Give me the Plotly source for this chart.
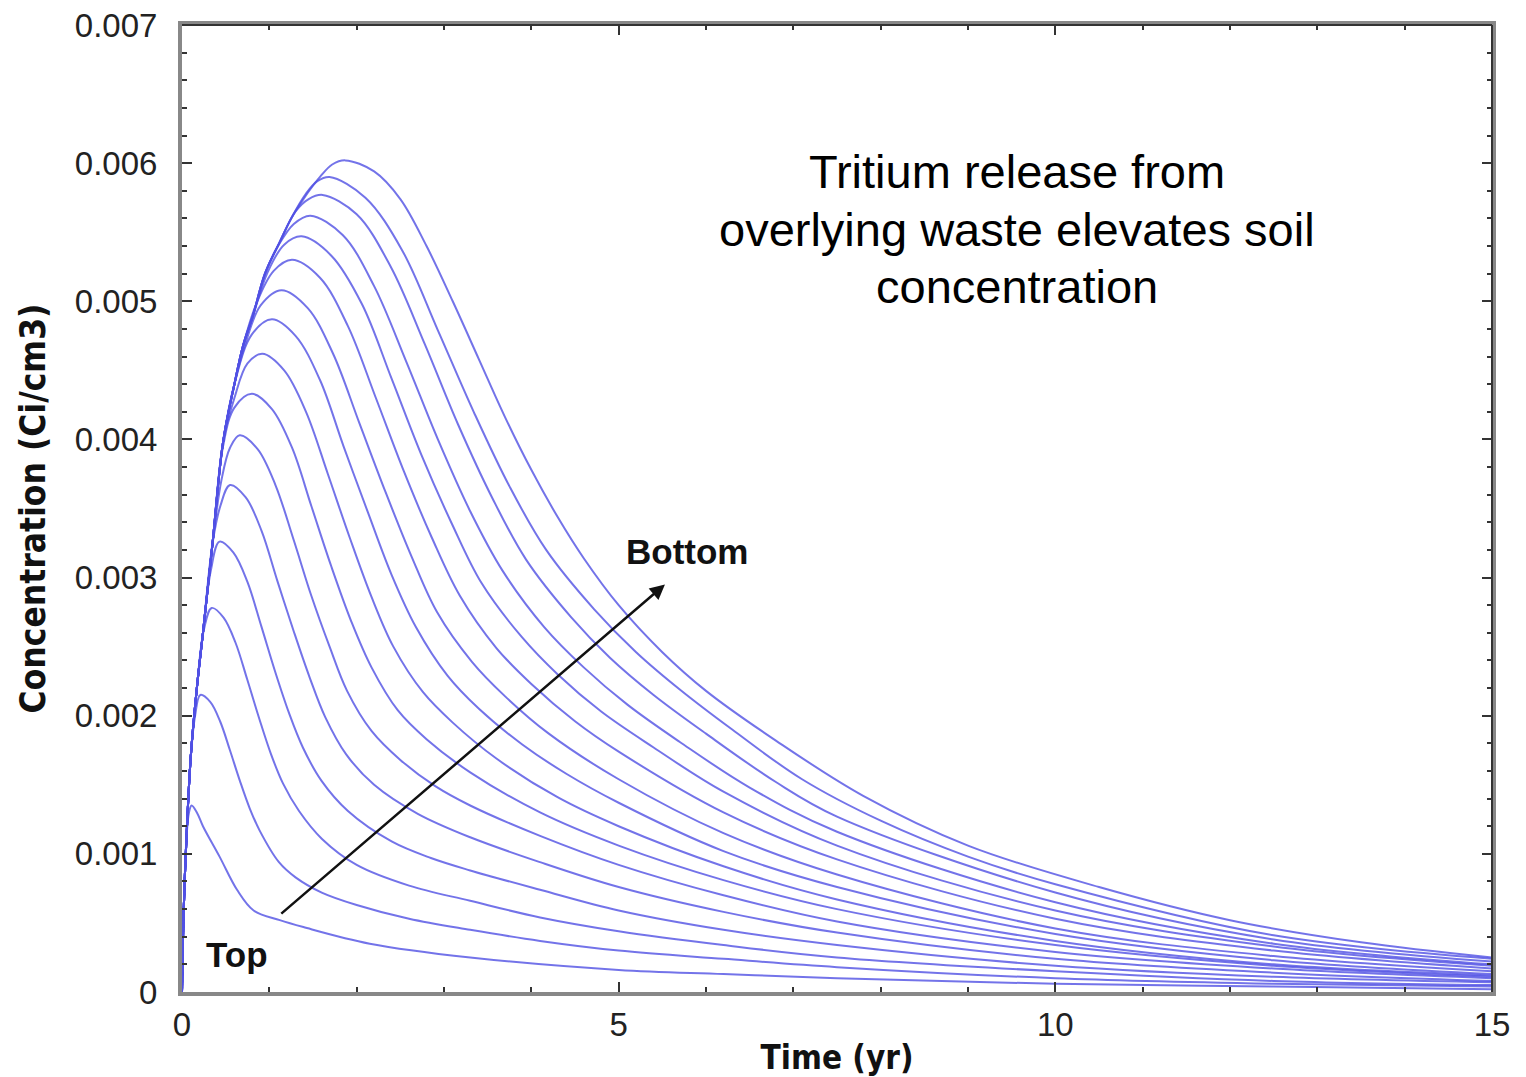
import plotly.graph_objects as go

# ---- data: concentration (Ci/cm3) vs time (yr), one curve per depth, top -> bottom ----
t_00 = [0, 0.02, 0.05, 0.08, 0.11, 0.17, 0.24, 0.43, 0.63, 0.82, 1.12, 1.39, 2.15, 3.3, 5, 6.2, 7.5, 10, 12.5, 15]
c_00 = [0, 0.0006, 0.0011, 0.0013, 0.00135, 0.0013, 0.0012, 0.00098, 0.00074, 0.00059, 0.00052, 0.00047, 0.00035, 0.00025, 0.00016, 0.00013, 0.0001, 0.00006, 0.00004, 0.00002]

t_01 = [0, 0.02, 0.05, 0.1, 0.15, 0.21, 0.323, 0.436, 0.549, 0.662, 0.775, 0.888, 1.11, 1.3, 1.6, 2.0, 2.6, 3.3, 4.1, 5, 6.2, 7.5, 10, 12.5, 15]
c_01 = [0, 0.0006, 0.0011, 0.0017, 0.002, 0.00215, 0.0021, 0.00196, 0.00175, 0.00153, 0.00133, 0.00117, 0.00094, 0.00083, 0.00072, 0.00063, 0.00053, 0.00045, 0.00037, 0.0003, 0.00024, 0.00018, 0.0001, 0.00006, 0.00004]

t_02 = [0, 0.02, 0.05, 0.1, 0.17, 0.25, 0.34, 0.476, 0.612, 0.748, 0.884, 1.02, 1.156, 1.34, 1.6, 2.0, 2.6, 3.3, 4.1, 5, 6.2, 7.5, 10, 12.5, 15]
c_02 = [0, 0.0006, 0.0011, 0.0017, 0.0022, 0.00262, 0.00278, 0.00271, 0.00253, 0.00226, 0.00198, 0.00172, 0.00151, 0.00131, 0.00111, 0.00092, 0.00077, 0.00066, 0.00054, 0.00044, 0.00034, 0.00025, 0.00015, 0.00008, 0.00005]

t_03 = [0, 0.02, 0.05, 0.1, 0.17, 0.24, 0.33, 0.43, 0.589, 0.748, 0.907, 1.066, 1.225, 1.384, 1.596, 1.9, 2.4, 2.85, 3.3, 4.1, 5, 6.2, 7.5, 10, 12.5, 15]
c_03 = [0, 0.0006, 0.0011, 0.0017, 0.0022, 0.0026, 0.00305, 0.00326, 0.00318, 0.00297, 0.00265, 0.00232, 0.00202, 0.00177, 0.00153, 0.00131, 0.00109, 0.00097, 0.00088, 0.00074, 0.00059, 0.00045, 0.00034, 0.00019, 0.00011, 0.00007]

t_04 = [0, 0.02, 0.05, 0.1, 0.17, 0.24, 0.35, 0.44, 0.55, 0.73, 0.91, 1.09, 1.28, 1.46, 1.64, 1.88, 2.2, 2.7, 3.3, 4.1, 5, 6.2, 7.5, 10, 12.5, 15]
c_04 = [0, 0.0006, 0.0011, 0.0017, 0.0022, 0.0026, 0.00325, 0.00352, 0.00367, 0.00358, 0.00334, 0.00298, 0.00261, 0.00228, 0.00199, 0.00172, 0.0015, 0.00129, 0.00112, 0.00094, 0.00076, 0.00058, 0.00043, 0.00024, 0.00014, 0.00008]

t_05 = [0, 0.02, 0.05, 0.1, 0.17, 0.24, 0.35, 0.45, 0.55, 0.66, 0.866, 1.07, 1.28, 1.48, 1.69, 1.89, 2.17, 2.5, 2.9, 3.3, 4.1, 5, 6.2, 7.5, 10, 12.5, 15]
c_05 = [0, 0.0006, 0.0011, 0.0017, 0.0022, 0.0026, 0.00325, 0.0037, 0.00394, 0.00403, 0.00393, 0.00367, 0.00327, 0.00287, 0.0025, 0.00218, 0.00189, 0.00168, 0.00149, 0.00135, 0.00113, 0.00092, 0.0007, 0.00051, 0.00029, 0.00017, 0.0001]

t_06 = [0, 0.02, 0.05, 0.1, 0.17, 0.24, 0.35, 0.47, 0.6, 0.8, 1.03, 1.26, 1.48, 1.71, 1.94, 2.17, 2.47, 2.8, 3.3, 4.1, 5, 6.2, 7.5, 10, 12.5, 15]
c_06 = [0, 0.0006, 0.0011, 0.0017, 0.0022, 0.0026, 0.00325, 0.00395, 0.00423, 0.00433, 0.00422, 0.00394, 0.00352, 0.00308, 0.00268, 0.00235, 0.00204, 0.00183, 0.00159, 0.0013, 0.00106, 0.00081, 0.0006, 0.00034, 0.00019, 0.00011]

t_07 = [0, 0.02, 0.05, 0.1, 0.17, 0.24, 0.35, 0.47, 0.6, 0.75, 0.92, 1.17, 1.42, 1.67, 1.92, 2.17, 2.42, 2.76, 3.1, 3.6, 4.3, 5, 6.2, 7.5, 10, 12.5, 15]
c_07 = [0, 0.0006, 0.0011, 0.0017, 0.0022, 0.0026, 0.00325, 0.00398, 0.0043, 0.00455, 0.00462, 0.0045, 0.0042, 0.00375, 0.00329, 0.00286, 0.0025, 0.00217, 0.00195, 0.00169, 0.00141, 0.0012, 0.00091, 0.00067, 0.00037, 0.0002, 0.00012]

t_08 = [0, 0.02, 0.05, 0.1, 0.17, 0.24, 0.35, 0.47, 0.6, 0.8, 1.03, 1.30, 1.58, 1.85, 2.13, 2.40, 2.68, 3.04, 3.4, 3.9, 4.4, 5, 6.2, 7.5, 10, 12.5, 15]
c_08 = [0, 0.0006, 0.0011, 0.0017, 0.0022, 0.0026, 0.00325, 0.00398, 0.0044, 0.00476, 0.00487, 0.00475, 0.00443, 0.00395, 0.00347, 0.00302, 0.00264, 0.00229, 0.00205, 0.00179, 0.00158, 0.00137, 0.00102, 0.00076, 0.00042, 0.00023, 0.00013]

t_09 = [0, 0.02, 0.05, 0.1, 0.17, 0.24, 0.35, 0.47, 0.6, 0.72, 0.9, 1.14, 1.44, 1.73, 2.03, 2.33, 2.63, 2.92, 3.32, 3.7, 4.2, 5, 6.2, 7.5, 10, 12.5, 15]
c_09 = [0, 0.0006, 0.0011, 0.0017, 0.0022, 0.0026, 0.00325, 0.00398, 0.0044, 0.00468, 0.00497, 0.00508, 0.00495, 0.00462, 0.00412, 0.00362, 0.00315, 0.00275, 0.00239, 0.00214, 0.00187, 0.00154, 0.00115, 0.00085, 0.00046, 0.00026, 0.00015]

t_10 = [0, 0.02, 0.05, 0.1, 0.17, 0.24, 0.35, 0.47, 0.6, 0.7, 0.85, 1.05, 1.26, 1.58, 1.90, 2.22, 2.54, 2.86, 3.18, 3.6, 4.0, 4.5, 5, 6.2, 7.5, 10, 12.5, 15]
c_10 = [0, 0.0006, 0.0011, 0.0017, 0.0022, 0.0026, 0.00325, 0.00398, 0.0044, 0.00468, 0.00498, 0.00522, 0.0053, 0.00517, 0.00482, 0.0043, 0.00377, 0.00329, 0.00287, 0.00249, 0.00223, 0.00196, 0.00174, 0.0013, 0.00096, 0.00053, 0.0003, 0.00017]

t_11 = [0, 0.02, 0.05, 0.1, 0.17, 0.24, 0.35, 0.47, 0.6, 0.7, 0.81, 0.98, 1.17, 1.37, 1.71, 2.06, 2.40, 2.74, 3.09, 3.43, 3.89, 4.3, 4.8, 5.4, 6.2, 7.5, 10, 12.5, 15]
c_11 = [0, 0.0006, 0.0011, 0.0017, 0.0022, 0.0026, 0.00325, 0.00398, 0.0044, 0.00468, 0.00489, 0.00521, 0.00541, 0.00547, 0.00533, 0.00498, 0.00444, 0.00389, 0.00339, 0.00296, 0.00257, 0.0023, 0.00203, 0.00177, 0.00145, 0.00106, 0.00059, 0.00033, 0.00019]

t_12 = [0, 0.02, 0.05, 0.1, 0.17, 0.24, 0.35, 0.47, 0.6, 0.7, 0.81, 0.95, 1.1, 1.28, 1.47, 1.84, 2.20, 2.57, 2.93, 3.30, 3.67, 4.15, 4.6, 5.1, 5.7, 6.5, 7.5, 10, 12.5, 15]
c_12 = [0, 0.0006, 0.0011, 0.0017, 0.0022, 0.0026, 0.00325, 0.00398, 0.0044, 0.00468, 0.00489, 0.0052, 0.0054, 0.00556, 0.00562, 0.00548, 0.00511, 0.00456, 0.004, 0.00348, 0.00305, 0.00264, 0.00235, 0.00208, 0.00181, 0.00148, 0.00116, 0.00065, 0.00035, 0.0002]

t_13 = [0, 0.02, 0.05, 0.1, 0.17, 0.24, 0.35, 0.47, 0.6, 0.7, 0.81, 0.95, 1.12, 1.3, 1.45, 1.61, 2.0, 2.39, 2.78, 3.16, 3.55, 3.94, 4.46, 4.9, 5.4, 6.0, 6.8, 7.5, 10, 12.5, 15]
c_13 = [0, 0.0006, 0.0011, 0.0017, 0.0022, 0.0026, 0.00325, 0.00398, 0.0044, 0.00468, 0.00489, 0.0052, 0.00543, 0.00565, 0.00574, 0.00577, 0.00563, 0.00525, 0.00469, 0.00411, 0.00358, 0.00313, 0.00271, 0.00242, 0.00215, 0.00187, 0.00152, 0.00127, 0.00072, 0.00038, 0.00022]

t_14 = [0, 0.02, 0.05, 0.1, 0.17, 0.24, 0.35, 0.47, 0.6, 0.7, 0.81, 0.95, 1.12, 1.25, 1.42, 1.55, 1.69, 2.10, 2.52, 2.93, 3.34, 3.75, 4.17, 4.72, 5.2, 5.7, 6.3, 7.1, 8.0, 9.0, 10, 12.5, 15]
c_14 = [0, 0.0006, 0.0011, 0.0017, 0.0022, 0.0026, 0.00325, 0.00398, 0.0044, 0.00468, 0.00489, 0.0052, 0.00543, 0.0056, 0.00578, 0.00587, 0.0059, 0.00575, 0.00537, 0.00479, 0.0042, 0.00366, 0.0032, 0.00277, 0.00246, 0.00219, 0.0019, 0.00154, 0.00124, 0.00098, 0.00078, 0.00041, 0.00024]

t_15 = [0, 0.02, 0.05, 0.1, 0.17, 0.24, 0.35, 0.47, 0.6, 0.7, 0.81, 0.95, 1.12, 1.25, 1.39, 1.58, 1.72, 1.87, 2.2, 2.5, 2.8, 3.1, 3.4, 3.7, 4.0, 4.3, 4.6, 5.0, 5.5, 6.0, 6.8, 7.8, 9.0, 10.5, 12.0, 13.5, 15]
c_15 = [0, 0.0006, 0.0011, 0.0017, 0.0022, 0.0026, 0.00325, 0.00398, 0.0044, 0.00468, 0.00489, 0.0052, 0.00543, 0.0056, 0.00574, 0.0059, 0.00599, 0.00602, 0.00594, 0.00574, 0.0054, 0.005, 0.00458, 0.00416, 0.00378, 0.00344, 0.00314, 0.0028, 0.00246, 0.00218, 0.00182, 0.00142, 0.00106, 0.00076, 0.00052, 0.00036, 0.00025]

y_ticks = [0, 0.001, 0.002, 0.003, 0.004, 0.005, 0.006, 0.007]
y_labels = ["0", "0.001", "0.002", "0.003", "0.004", "0.005", "0.006", "0.007"]
x_ticks = [0, 5, 10, 15]
x_labels = ["0", "5", "10", "15"]

title_lines = ["Tritium release from", "overlying waste elevates soil", "concentration"]

times = [t_00, t_01, t_02, t_03, t_04, t_05, t_06, t_07, t_08, t_09, t_10, t_11, t_12, t_13, t_14, t_15]
concs = [c_00, c_01, c_02, c_03, c_04, c_05, c_06, c_07, c_08, c_09, c_10, c_11, c_12, c_13, c_14, c_15]

fig = go.Figure()
for tt, cc in zip(times, concs):
    fig.add_trace(go.Scatter(
        x=tt, y=cc, mode="lines",
        line=dict(color="rgba(80,80,228,0.8)", width=2, shape="spline", smoothing=1.0),
        hoverinfo="skip", showlegend=False,
    ))

LABEL_FONT = "Liberation Sans, Arial, sans-serif"
BOLD_NARROW = "Liberation Sans Narrow, Arial Narrow, DejaVu Sans Condensed, Liberation Sans, Arial, sans-serif"

# title text, one annotation per line (centred block in the upper right)
title_y = [0.005942, 0.005522, 0.005109]
annotations = [
    dict(x=9.56, y=yy, xref="x", yref="y", showarrow=False, text=txt,
         font=dict(family=LABEL_FONT, size=47, color="black"))
    for txt, yy in zip(title_lines, title_y)
]
annotations += [
    dict(x=5.53, y=0.00295, ax=1.12, ay=0.000558, xref="x", yref="y", axref="x", ayref="y",
         text="", showarrow=True, arrowhead=2, arrowsize=1.2, arrowwidth=2.5, arrowcolor="#111"),
    dict(x=5.78, y=0.00319, xref="x", yref="y", showarrow=False, text="<b>Bottom</b>",
         font=dict(family=LABEL_FONT, size=35, color="#111")),
    dict(x=0.63, y=0.000268, xref="x", yref="y", showarrow=False, text="<b>Top</b>",
         font=dict(family=LABEL_FONT, size=35, color="#111")),
]

fig.update_layout(
    width=1526, height=1077,
    margin=dict(l=182, r=34, t=25, b=85),
    paper_bgcolor="white", plot_bgcolor="white",
    showlegend=False,
    xaxis=dict(
        range=[0, 15], tickvals=x_ticks, ticktext=x_labels,
        ticks="inside", ticklen=10, tickwidth=2, tickcolor="#333",
        minor=dict(dtick=1, ticks="inside", ticklen=5, tickwidth=1.5, tickcolor="#333"),
        showline=True, linecolor="#888", linewidth=4, mirror="allticks",
        showgrid=False, zeroline=False,
        tickfont=dict(family=LABEL_FONT, size=33, color="#222"),
        ticklabelstandoff=0,
        title=dict(text="<b>Time (yr)</b>", font=dict(family=BOLD_NARROW, size=33, color="#111"), standoff=6),
        automargin=False,
    ),
    yaxis=dict(
        range=[0, 0.007], tickvals=y_ticks, ticktext=y_labels,
        ticks="inside", ticklen=10, tickwidth=2, tickcolor="#333",
        minor=dict(dtick=0.0002, ticks="inside", ticklen=5, tickwidth=1.5, tickcolor="#333"),
        showline=True, linecolor="#888", linewidth=4, mirror="allticks",
        showgrid=False, zeroline=False,
        tickfont=dict(family=LABEL_FONT, size=33, color="#222"),
        ticklabelstandoff=14,
        title=dict(text="<b>Concentration (Ci/cm3)</b>", font=dict(family=BOLD_NARROW, size=35, color="#111"), standoff=20),
        automargin=False,
    ),
    annotations=annotations,
    shapes=[
        dict(type="line", xref="paper", yref="paper", x0=0, x1=1, y0=1, y1=1,
             line=dict(color="#333", width=2)),
        dict(type="line", xref="paper", yref="paper", x0=1, x1=1, y0=0, y1=1,
             line=dict(color="#333", width=2)),
    ],
)

fig.write_html("out.html")
